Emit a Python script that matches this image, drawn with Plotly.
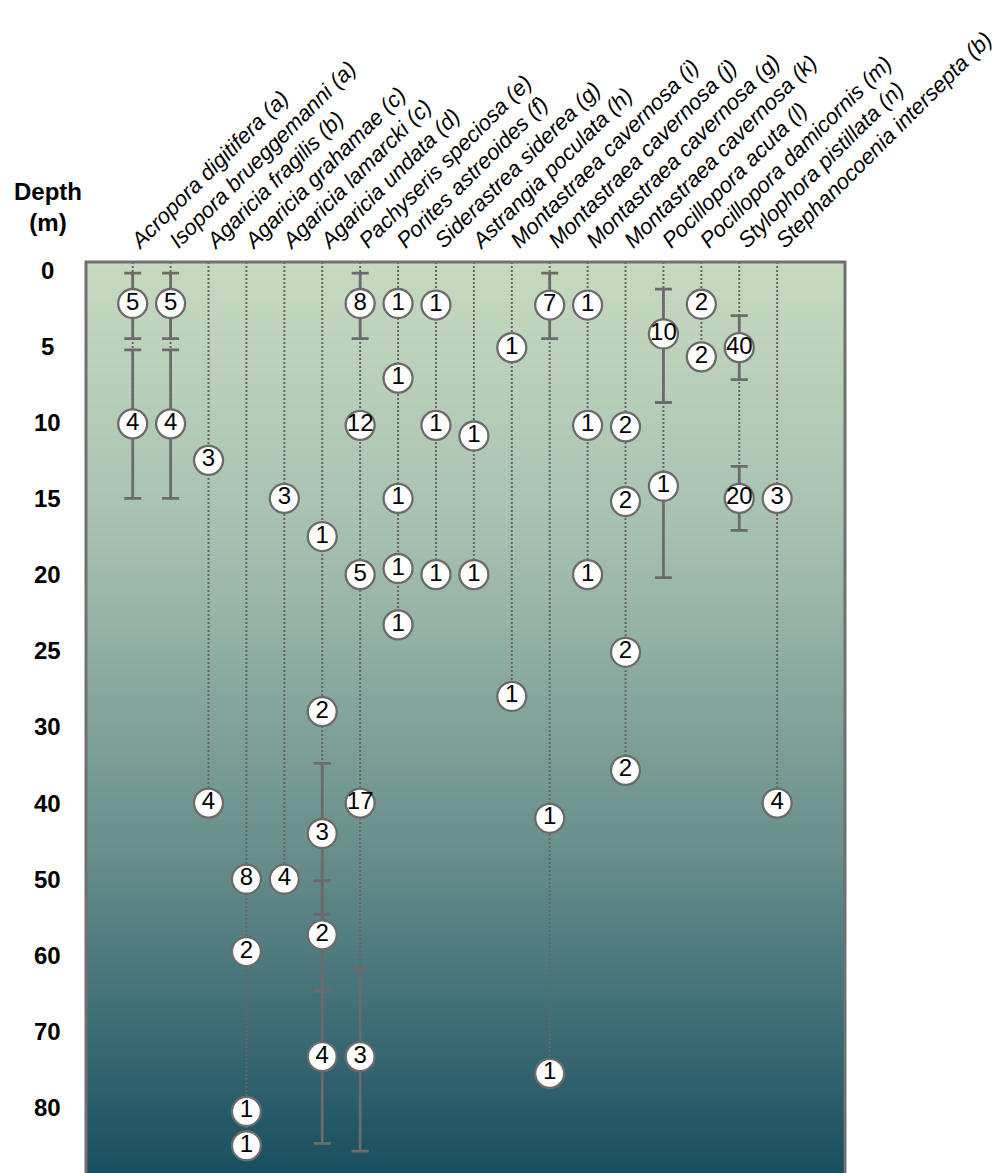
import numpy as np
import plotly.graph_objects as go

# ---------------------------------------------------------------- data
species = [
    "Acropora digitifera (a)", "Isopora brueggemanni (a)", "Agaricia fragilis (b)",
    "Agaricia grahamae (c)", "Agaricia lamarcki (c)", "Agaricia undata (d)",
    "Pachyseris speciosa (e)", "Porites astreoides (f)", "Siderastrea siderea (g)",
    "Astrangia poculata (h)", "Montastraea cavernosa (i)", "Montastraea cavernosa (j)",
    "Montastraea cavernosa (g)", "Montastraea cavernosa (k)", "Pocillopora acuta (l)",
    "Pocillopora damicornis (m)", "Stylophora pistillata (n)", "Stephanocoenia intersepta (b)",
]

# sampled depths (m) and number of samples at each depth
point_species = [0, 0, 1, 1, 2, 2, 3, 3, 3, 3, 4, 4,
                 5, 5, 5, 5, 5, 6, 6, 6, 6, 6,
                 7, 7, 7, 7, 7, 8, 8, 8, 9, 9, 10, 10,
                 11, 11, 11, 12, 12, 12, 13, 13, 13, 13,
                 14, 14, 15, 15, 16, 16, 17, 17]
point_depth = [2.2, 10.1, 2.2, 10.1, 12.5, 40, 50, 59.5, 80.5, 85, 15, 50,
               17.5, 29, 44, 57.3, 73.3, 2.2, 10.2, 20, 40, 73.3,
               2.2, 7.1, 15, 19.6, 23.3, 2.3, 10.2, 20, 10.9, 20, 5.1, 28,
               2.3, 42, 75.5, 2.3, 10.2, 20, 10.3, 15.2, 25.1, 35.7,
               4.2, 14.2, 2.25, 5.7, 5.1, 15, 15, 40]
point_count = [5, 4, 5, 4, 3, 4, 8, 2, 1, 1, 3, 4,
               1, 2, 3, 2, 4, 8, 12, 5, 17, 3,
               1, 1, 1, 1, 1, 1, 1, 1, 1, 1, 1, 1,
               7, 1, 1, 1, 1, 1, 2, 2, 2, 2,
               10, 1, 2, 2, 40, 20, 3, 4]

# depth ranges (m) drawn as bars around some of the points
bar_species = [0, 0, 1, 1, 5, 5, 5, 6, 6, 11, 14, 14, 16, 16]
bar_center = [2.2, 10.1, 2.2, 10.1, 44, 57.3, 73.3, 2.2, 73.3, 2.3, 4.2, 14.2, 5.1, 15]
bar_top = [0.2, 5.25, 0.2, 5.25, 34.8, 50.2, 64.7, 0.2, 61.7, 0.2, 1.25, 14.2, 3.0, 12.9]
bar_bottom = [4.5, 15, 4.5, 15, 54.6, 64.7, 84.7, 4.5, 85.7, 4.5, 8.7, 20.2, 7.2, 17.1]

depth_ticks = [0, 5, 10, 15, 20, 25, 30, 40, 50, 60, 70, 80]


# depth axis: 0-30 m at full scale, deeper water at half scale
def to_axis(d):
    return d if d <= 30 else 30 + (d - 30) / 2.0


FONT = "Liberation Sans, Arial, Helvetica, sans-serif"
GREY = "#6b6b6b"
X_RANGE = [-1.232, 18.79]
Y_RANGE = [59.29, -0.525]
col_x = list(range(len(species)))

fig = go.Figure()

# water-column gradient behind the columns
n_rows = 60
grad_y = np.linspace(Y_RANGE[1], Y_RANGE[0], n_rows)
grad_z = [[v, v] for v in np.linspace(0, 1, n_rows)]
fig.add_trace(go.Heatmap(
    x=X_RANGE, y=grad_y, z=grad_z, zsmooth="best", showscale=False,
    hoverinfo="skip",
    colorscale=[[0.0, "rgb(199,218,192)"], [0.3, "rgb(166,192,176)"],
                [0.65, "rgb(103,142,139)"], [0.85, "rgb(58,106,116)"],
                [1.0, "rgb(25,78,96)"]],
))

# dotted guide from the surface down to the deepest record of each species
for i in col_x:
    deepest = max(d for s, d in zip(point_species, point_depth) if s == i)
    fig.add_trace(go.Scatter(
        x=[i, i], y=[Y_RANGE[1], to_axis(deepest)], mode="lines",
        line=dict(color="#666666", width=2, dash="2px,2px"),
        hoverinfo="skip", showlegend=False,
    ))

# depth ranges
bar_y = [to_axis(c) for c in bar_center]
bar_plus = [to_axis(b) - to_axis(c) for b, c in zip(bar_bottom, bar_center)]
bar_minus = [to_axis(c) - to_axis(t) for t, c in zip(bar_top, bar_center)]
fig.add_trace(go.Scatter(
    x=bar_species, y=bar_y, mode="markers",
    marker=dict(size=1, color="rgba(0,0,0,0)"),
    error_y=dict(type="data", symmetric=False, array=bar_plus, arrayminus=bar_minus,
                 color=GREY, thickness=2.8, width=8.5),
    hoverinfo="skip", showlegend=False,
))

# sample counts
fig.add_trace(go.Scatter(
    x=point_species,
    y=[to_axis(d) for d in point_depth],
    mode="markers+text",
    text=[str(c) for c in point_count],
    textposition="middle center",
    textfont=dict(family=FONT, size=24, color="black"),
    marker=dict(size=29, color="white", line=dict(color=GREY, width=2.3)),
    showlegend=False,
))

# depth labels on the left
annotations = [
    dict(x=-0.0501, y=to_axis(d), xref="paper", yref="y", text=str(d),
         showarrow=False, xanchor="center", yanchor="middle",
         font=dict(family=FONT, size=24, color="black", weight="bold"))
    for d in depth_ticks
]
annotations.append(dict(
    x=-0.0501, y=1.0604, xref="paper", yref="paper", text="Depth<br>(m)",
    showarrow=False, xanchor="center", yanchor="middle",
    font=dict(family=FONT, size=24, color="black", weight="bold"),
))

fig.update_layout(
    width=1001, height=1173,
    margin=dict(l=86, r=156, t=262, b=0, autoexpand=False),
    paper_bgcolor="white", plot_bgcolor="white",
    showlegend=False,
    annotations=annotations,
    shapes=[dict(type="path", xref="paper", yref="paper",
                 path="M 0,0 L 0,1 L 1,1 L 1,0",
                 line=dict(color="#707070", width=3), layer="above")],
    xaxis=dict(
        range=X_RANGE, side="top", tickangle=-45, showgrid=False,
        tickmode="array", tickvals=col_x, ticktext=species,
        ticklabeloverflow="allow", ticklabelstandoff=4,
        zeroline=False, showline=False, ticks="", automargin=False,
        tickfont=dict(family=FONT, size=22, color="black", style="italic"),
    ),
    yaxis=dict(range=Y_RANGE, showticklabels=False, showgrid=False,
               zeroline=False, showline=False, ticks="", automargin=False),
)

fig.write_html("out.html")
